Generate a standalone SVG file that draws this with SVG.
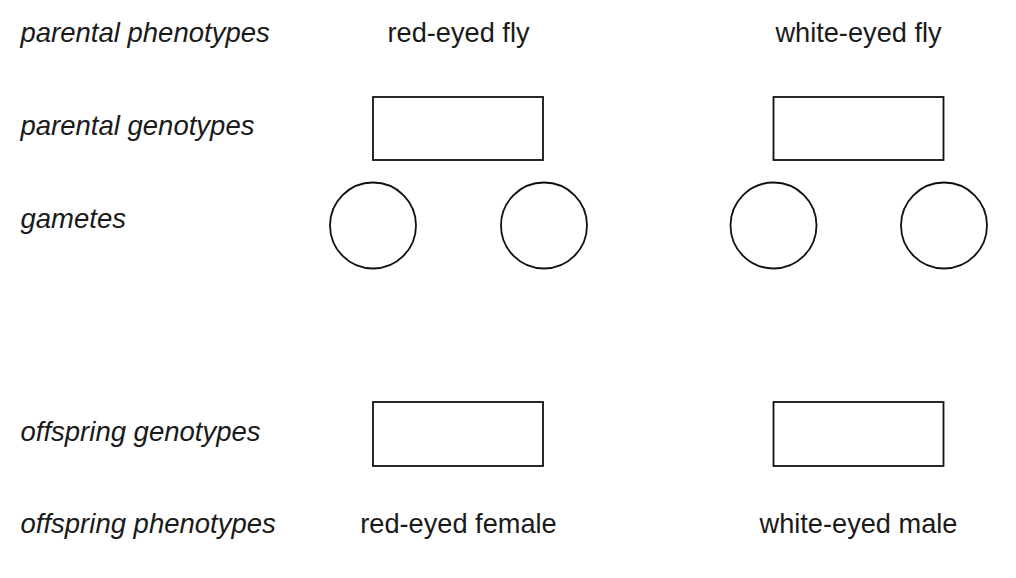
<svg xmlns="http://www.w3.org/2000/svg" width="1016" height="578" viewBox="0 0 1016 578">
<style>
.lbl{font-family:"Liberation Sans",Arial,sans-serif;font-size:27.5px;font-style:italic;fill:#1a1a1a}
.ph{font-family:"Liberation Sans",Arial,sans-serif;font-size:27.2px;fill:#1a1a1a;text-anchor:middle}
.box{fill:none;stroke:#111;stroke-width:1.8}
</style>
<rect width="1016" height="578" fill="#fff"/>
<g id="row-labels">
<text class="lbl" x="20.5" y="42">parental phenotypes</text>
<text class="lbl" x="20.5" y="135">parental genotypes</text>
<text class="lbl" x="20.5" y="228">gametes</text>
<text class="lbl" x="20.5" y="441">offspring genotypes</text>
<text class="lbl" x="20.5" y="533">offspring phenotypes</text>
</g>
<g id="parent-red">
<text class="ph" x="458.5" y="42">red-eyed fly</text>
<rect class="box" x="373" y="97" width="170" height="63"/>
</g>
<g id="parent-white">
<text class="ph" x="858.5" y="42">white-eyed fly</text>
<rect class="box" x="773.5" y="97" width="170" height="63"/>
</g>
<g id="gametes">
<circle class="box" cx="373" cy="225.5" r="43"/>
<circle class="box" cx="544" cy="225.5" r="43"/>
<circle class="box" cx="773.5" cy="225.5" r="43"/>
<circle class="box" cx="944" cy="225.5" r="43"/>
</g>
<g id="offspring-female">
<rect class="box" x="373" y="402" width="170" height="64"/>
<text class="ph" x="458.5" y="533">red-eyed female</text>
</g>
<g id="offspring-male">
<rect class="box" x="773.5" y="402" width="170" height="64"/>
<text class="ph" x="858.5" y="533">white-eyed male</text>
</g>
<g id="connectors"></g>
</svg>
